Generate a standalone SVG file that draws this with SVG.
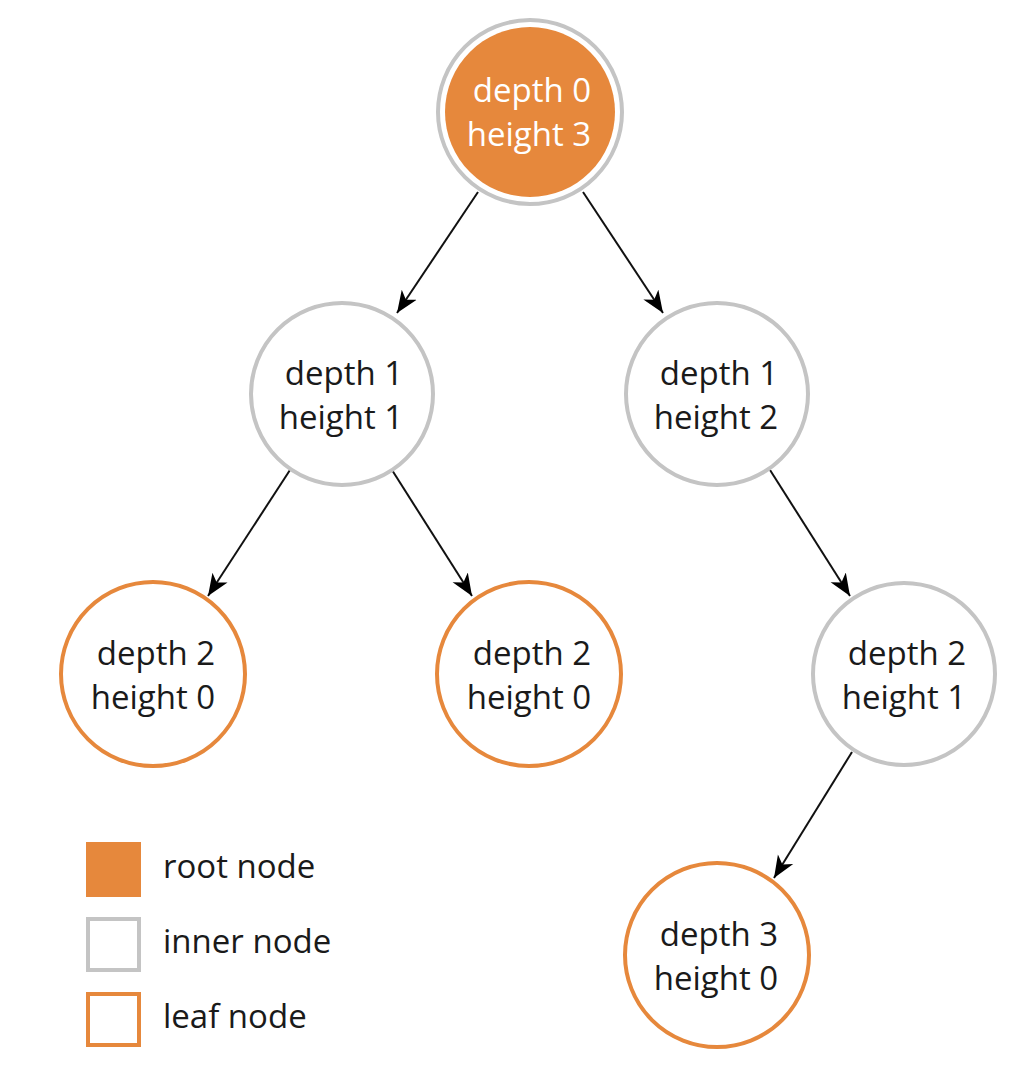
<svg xmlns="http://www.w3.org/2000/svg" width="1034" height="1086" viewBox="0 0 1034 1086">
<defs>
<marker id="ah" markerUnits="userSpaceOnUse" markerWidth="24" markerHeight="20" viewBox="0 0 24 20" refX="22" refY="10" orient="auto">
<path d="M0,1 L22,10 L0,19 L6,10 Z" fill="#000"/>
</marker>
<style>
.t{font-family:"Open Sans","Liberation Sans",sans-serif;font-size:33px;font-weight:500;text-anchor:middle;fill:#1a1a1a}
.w{fill:#fff}
.inner{fill:#fff;stroke:#c4c4c4;stroke-width:4}
.leaf{fill:#fff;stroke:#e6883c;stroke-width:4}
.edge{stroke:#111;stroke-width:2;fill:none;marker-end:url(#ah)}
.lg{font-family:"Open Sans","Liberation Sans",sans-serif;font-size:33px;font-weight:500;fill:#1a1a1a}
</style>
</defs>
<rect width="1034" height="1086" fill="#fff"/>
<g id="connectors">
<line class="edge" x1="478" y1="192" x2="397" y2="313"/>
<line class="edge" x1="583" y1="192" x2="663" y2="313"/>
<line class="edge" x1="290" y1="470" x2="208" y2="596"/>
<line class="edge" x1="392" y1="470" x2="472" y2="596"/>
<line class="edge" x1="770" y1="470" x2="850" y2="596"/>
<line class="edge" x1="852" y1="752" x2="774" y2="878"/>
</g>
<g id="root">
<circle cx="530" cy="112" r="92" fill="#fff" stroke="#c4c4c4" stroke-width="4"/>
<circle cx="530" cy="112" r="85" fill="#e6883c"/>
<text class="t w" x="532" y="102">depth 0</text>
<text class="t w" x="529" y="146">height 3</text>
</g>
<g id="n1a">
<circle class="inner" cx="342" cy="394" r="91"/>
<text class="t" x="344" y="385">depth 1</text>
<text class="t" x="341" y="429">height 1</text>
</g>
<g id="n1b">
<circle class="inner" cx="717" cy="394" r="91"/>
<text class="t" x="719" y="385">depth 1</text>
<text class="t" x="716" y="429">height 2</text>
</g>
<g id="n2a">
<circle class="leaf" cx="153" cy="674" r="92"/>
<text class="t" x="156" y="665">depth 2</text>
<text class="t" x="153" y="709">height 0</text>
</g>
<g id="n2b">
<circle class="leaf" cx="529" cy="674" r="92"/>
<text class="t" x="532" y="665">depth 2</text>
<text class="t" x="529" y="709">height 0</text>
</g>
<g id="n2c">
<circle class="inner" cx="904" cy="674" r="91"/>
<text class="t" x="907" y="665">depth 2</text>
<text class="t" x="904" y="709">height 1</text>
</g>
<g id="n3">
<circle class="leaf" cx="717" cy="955" r="92"/>
<text class="t" x="719" y="946">depth 3</text>
<text class="t" x="716" y="990">height 0</text>
</g>
<g id="legend">
<rect x="86" y="842" width="55" height="55" fill="#e6883c"/>
<text class="lg" x="163" y="878">root node</text>
<rect x="88" y="919" width="51" height="51" fill="#fff" stroke="#c4c4c4" stroke-width="4"/>
<text class="lg" x="163" y="953">inner node</text>
<rect x="88" y="994" width="51" height="51" fill="#fff" stroke="#e6883c" stroke-width="4"/>
<text class="lg" x="163" y="1028">leaf node</text>
</g>
</svg>
